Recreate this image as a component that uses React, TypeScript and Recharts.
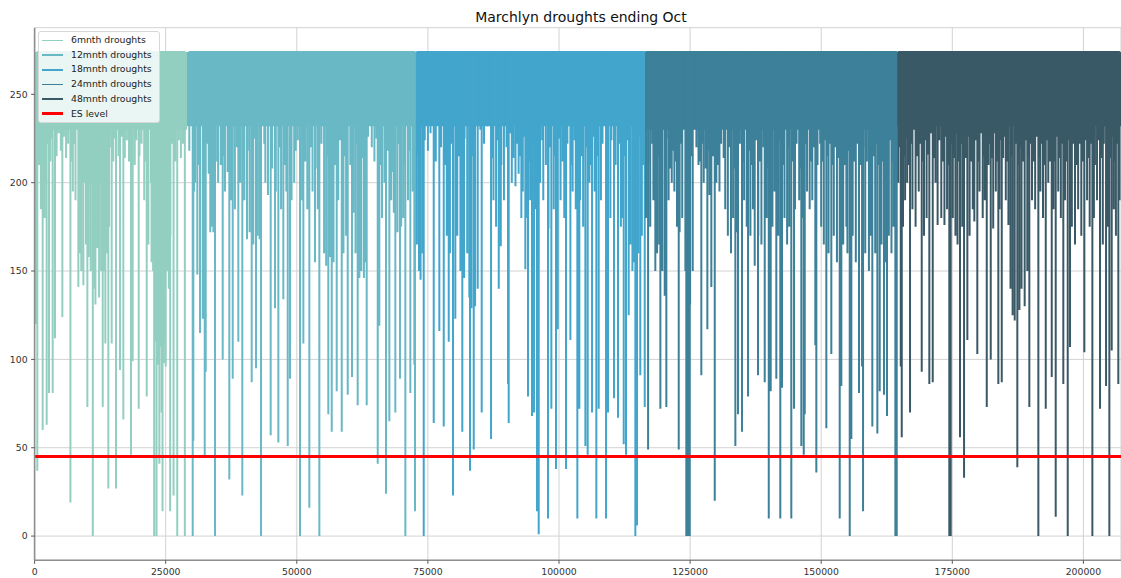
import { ComposedChart, Line, Area, XAxis, YAxis, CartesianGrid, ReferenceLine, Legend } from "recharts"

// drought series sit at the capped level and drop to their minimum storage
const capLevel = 274
const esLevel = 45
const xMax = 207170
const xTicks = [0, 25000, 50000, 75000, 100000, 125000, 150000, 175000, 200000]
const yTicks = [0, 50, 100, 150, 200, 250]

// [start x, lower edge of the dense band] (step shaped)
const sixBand = [
  [0, 120], [460, 230], [8280, 200], [14380, 230], [22000, 200], [26010, 230], [29060, 230],
]
const twelveBand = [[29060, 232], [72730, 232]]
const eighteenBand = [[72730, 232], [116410, 232]]
const twentyFourBand = [[116410, 230], [164470, 230]]
const fortyEightBand = [[164470, 232], [208300, 232]]

// [x, minimum] of the deeper droughts
const sixDips = [
  [515, 37], [1540, 60], [2300, 63], [2750, 81], [3450, 81], [3890, 112], [5290, 124],
  [6830, 19], [8340, 141], [10060, 73], [11100, 0], [11960, 163], [12990, 73], [13490, 109],
  [14060, 27], [14700, 109], [15520, 27], [16290, 94], [16920, 66], [18380, 46], [18700, 99],
  [19850, 72], [21380, 79], [22800, 0], [23250, 0], [23790, 41], [24230, 70], [24400, 14],
  [25000, 96], [25850, 14], [26500, 23], [27200, 0], [28650, 0],
]
const twelveDips = [
  [30150, 0], [30270, 54], [31030, 148], [31540, 115], [32060, 123], [32440, 45], [32630, 93],
  [34400, 0], [35870, 100], [37130, 32], [37780, 89], [38850, 110], [39610, 23], [41400, 87],
  [42220, 95], [43180, 0], [45020, 57], [45840, 129], [46480, 53], [47430, 134], [48270, 51],
  [48710, 89], [50610, 0], [51250, 109], [52390, 16], [53470, 155], [54300, 0], [56010, 69],
  [56660, 59], [57610, 82], [58570, 59], [59710, 80], [60530, 90], [61610, 74], [61930, 146],
  [63330, 74], [65430, 41], [65740, 119], [66250, 180], [67010, 24], [67650, 65], [68790, 70],
  [69680, 89], [70700, 0], [71650, 81], [72410, 97], [72540, 14],
]
const eighteenDips = [
  [74200, 0], [76110, 64], [77180, 116], [78020, 62], [78970, 110], [79790, 23], [80230, 123],
  [81560, 59], [83030, 37], [83740, 49], [85260, 70], [87040, 55], [88510, 140], [90280, 86],
  [90410, 64], [92820, 180], [93580, 151], [94090, 79], [94850, 68], [95240, 70], [95810, 14],
  [96130, 1], [97900, 10], [98540, 72], [99430, 38], [99760, 117], [101340, 38], [102170, 111],
  [103500, 10], [103880, 72], [105030, 51], [105470, 46], [106300, 70], [107120, 10],
  [107570, 72], [108970, 10], [109350, 70], [110490, 78], [111250, 67], [112340, 52],
  [112780, 46], [113290, 125], [114560, 0], [114880, 6], [115500, 91], [116350, 73],
]
const twentyFourDips = [
  [116990, 49], [118370, 150], [119330, 72], [120160, 136], [120470, 73], [122830, 49],
  [124280, 0], [124600, 0], [124930, 0], [127140, 91], [128290, 117], [129050, 141],
  [129700, 20], [133630, 51], [134140, 69], [134900, 59], [136050, 79], [137320, 153],
  [137950, 91], [139230, 87], [140000, 10], [140370, 82], [141440, 89], [142200, 10],
  [142530, 84], [144300, 10], [144820, 72], [146210, 51], [146670, 46], [146860, 69],
  [148880, 108], [149070, 36], [150980, 61], [151930, 103], [153530, 10], [153840, 85],
  [155440, 0], [155750, 55], [157210, 81], [157790, 96], [157980, 14], [159750, 62],
  [160710, 58], [161160, 82], [161980, 80], [162550, 68], [164140, 0], [164400, 0],
]
const fortyEightDips = [
  [165170, 96], [165360, 56], [166940, 70], [169170, 93], [170620, 86], [171270, 87],
  [174430, 0], [174700, 0], [176470, 56], [177240, 33], [177870, 111], [179770, 103],
  [181570, 73], [182330, 100], [183780, 86], [184430, 87], [187400, 39], [189690, 73],
  [191410, 0], [192820, 72], [193960, 90], [194720, 11], [196170, 86], [197010, 0],
  [197450, 107], [200180, 104], [201710, 0], [203170, 72], [204320, 85], [204950, 0],
  [205400, 105], [206660, 86],
]

// [x, minimum] of the mid-depth droughts that fray the band
const sixFingers = [
  [1200, 185], [1900, 180], [2100, 200], [7300, 195], [7800, 190], [8600, 160], [8900, 150],
  [9300, 142], [9800, 165], [10300, 158], [10700, 150], [11300, 140], [11600, 131],
  [12300, 135], [12700, 150], [13200, 150], [13800, 160], [14200, 175], [20900, 190],
  [21700, 165], [22300, 155], [22600, 150], [23100, 110], [23500, 100], [23600, 97],
  [24000, 107], [24600, 98], [24800, 110], [25300, 150], [25600, 140], [25900, 170],
  [600, 222], [900, 210], [1400, 225], [1700, 212], [2500, 222], [3000, 212], [3300, 225],
  [4200, 215], [4600, 228], [5000, 218], [5600, 226], [6000, 214], [6400, 222], [7000, 212],
  [7600, 222], [14600, 220], [15000, 212], [15300, 225], [16000, 215], [16600, 226],
  [17200, 214], [17600, 224], [18000, 212], [18500, 222], [19100, 210], [19400, 224],
  [20000, 215], [20400, 222], [21000, 212], [21200, 224], [26200, 222], [26800, 212],
  [27500, 224], [27900, 214], [28300, 222],
]
const twelveFingers = [
  [30400, 195], [30600, 200], [33500, 172], [33800, 175], [34100, 172], [35000, 200],
  [35500, 210], [36300, 195], [37400, 190], [38200, 185], [39200, 200], [40000, 190],
  [40500, 168], [41000, 172], [41700, 165], [42500, 170], [42900, 168], [44000, 200],
  [44500, 193], [46000, 195], [47000, 185], [48000, 195], [49000, 190], [49500, 200],
  [51000, 190], [52000, 185], [53000, 195], [54000, 185], [55200, 160], [55600, 153],
  [56300, 158], [57000, 155], [57900, 190], [58900, 160], [59400, 170], [60800, 183],
  [61200, 160], [62300, 150], [62800, 146], [63100, 155], [66700, 200], [68000, 190],
  [68500, 183], [69200, 172], [69900, 175], [70300, 180], [71200, 190], [72100, 195],
  [29500, 218], [31300, 210], [32900, 222], [33200, 205], [34800, 212], [36000, 215],
  [36800, 206], [38600, 220], [39900, 212], [40900, 218], [41900, 225], [43000, 215],
  [43800, 222], [45300, 208], [46800, 220], [47700, 210], [49800, 218], [50200, 224],
  [51600, 212], [52700, 220], [53900, 208], [54700, 222], [55900, 215], [57300, 210],
  [58200, 224], [59100, 215], [60200, 210], [61500, 222], [62500, 214], [63600, 226],
  [64300, 220], [64800, 212], [65200, 225], [66000, 210], [67300, 218], [68200, 206],
  [69500, 222], [70500, 210], [71500, 218], [72300, 212],
]
const eighteenFingers = [
  [72900, 165], [73300, 150], [73600, 145], [74000, 160], [78600, 170], [79200, 160],
  [80600, 170], [81200, 150], [81900, 146], [82500, 160], [82900, 135], [83300, 129],
  [84000, 130], [84500, 140], [87500, 190], [88000, 175], [88900, 164], [89500, 190],
  [91000, 200], [91700, 198], [92300, 205], [93100, 195], [93900, 180], [94500, 190],
  [95500, 185], [96400, 200], [97000, 190], [98000, 174], [99000, 185], [100300, 190],
  [101000, 180], [102600, 195], [103200, 185], [104000, 190], [104600, 175], [105800, 200],
  [106800, 195], [108000, 190], [109800, 180], [110500, 190], [111800, 175], [112000, 180],
  [113600, 165], [114000, 150], [114300, 155], [115100, 160], [115800, 170],
  [73000, 215], [74400, 224], [75000, 218], [75500, 228], [76500, 212], [77500, 220],
  [78300, 210], [79500, 222], [80900, 215], [82000, 225], [83500, 215], [85000, 230],
  [85700, 222], [86300, 232], [87200, 214], [88200, 224], [89000, 210], [90000, 220],
  [90700, 228], [91300, 214], [92000, 222], [92600, 215], [93300, 226], [94200, 212],
  [95000, 222], [96000, 218], [96800, 224], [97500, 210], [98300, 220], [99200, 215],
  [100000, 225], [100700, 212], [101600, 222], [102400, 210], [103000, 224], [104300, 215],
  [105200, 220], [106000, 210], [106500, 226], [107300, 215], [108300, 222], [109000, 212],
  [110000, 224], [110800, 210], [111500, 222], [112500, 215], [113000, 224], [114700, 218],
  [115300, 226], [116000, 210],
]
const twentyFourFingers = [
  [116600, 180], [117400, 175], [118000, 190], [118700, 160], [119100, 165], [119700, 150],
  [120200, 165], [120900, 190], [121500, 200], [122000, 195], [122500, 175], [123000, 172],
  [123500, 180], [124100, 150], [124400, 140], [125000, 131], [125500, 150], [126600, 210],
  [127600, 200], [128700, 193], [130000, 200], [130600, 195], [131700, 185], [132200, 170],
  [132800, 160], [133200, 180], [133900, 172], [135300, 190], [135800, 175], [136500, 170],
  [137000, 185], [138000, 170], [138600, 165], [139600, 180], [140700, 175], [141100, 195],
  [141800, 170], [143000, 180], [143500, 165], [143900, 175], [145000, 185], [145800, 190],
  [146400, 180], [147300, 195], [147800, 185], [148300, 190], [150000, 175], [150500, 165],
  [151400, 160], [152400, 170], [153000, 155], [154200, 165], [154800, 175], [155000, 160],
  [156000, 170], [156600, 155], [158400, 160], [159100, 150], [159400, 170], [160300, 160],
  [161500, 165], [162200, 155], [162900, 170], [163400, 160], [163800, 175],
  [117000, 210], [117800, 222], [119000, 215], [120500, 225], [121200, 208], [121800, 218],
  [122300, 212], [123200, 222], [125300, 215], [126200, 220], [126900, 212], [127300, 222],
  [128000, 208], [128500, 218], [129400, 215], [130300, 210], [130900, 222], [131400, 214],
  [132500, 220], [133500, 208], [134500, 222], [135000, 212], [136200, 218], [136800, 210],
  [137600, 224], [138300, 212], [139000, 220], [139900, 208], [140500, 222], [141300, 212],
  [142000, 224], [142800, 210], [143700, 220], [144500, 212], [145300, 222], [146000, 208],
  [147000, 222], [148000, 212], [148600, 220], [149300, 210], [149800, 222], [150300, 212],
  [150800, 224], [151200, 215], [151700, 222], [152100, 210], [152700, 220], [153300, 214],
  [154000, 222], [154500, 210], [155200, 218], [155600, 225], [156300, 212], [156900, 222],
  [157500, 210], [158000, 220], [158700, 212], [159600, 224], [160000, 215], [160500, 222],
  [160900, 210], [161300, 220], [161800, 212], [162400, 222], [162700, 214], [163100, 224],
  [163600, 212], [164000, 220],
]
const fortyEightFingers = [
  [164700, 200], [165600, 175], [166000, 190], [166400, 200], [167400, 185], [168000, 175],
  [168600, 195], [169600, 170], [170100, 180], [171800, 200], [172200, 176], [172900, 180],
  [173500, 176], [174000, 185], [175100, 180], [175600, 170], [176000, 165], [176900, 175],
  [178300, 170], [178900, 185], [179200, 178], [180200, 195], [180800, 180], [181200, 190],
  [182800, 174], [183300, 195], [184000, 185], [185200, 190], [185700, 176], [186100, 140],
  [186500, 125], [186900, 122], [187800, 128], [188200, 140], [188800, 130], [189300, 150],
  [190200, 190], [190800, 185], [191800, 195], [192300, 180], [193300, 200], [194300, 185],
  [195200, 195], [195700, 180], [196500, 190], [197800, 175], [198400, 165], [199000, 185],
  [199600, 170], [200700, 190], [201200, 175], [202000, 180], [202600, 190], [203700, 165],
  [204600, 175], [205800, 185], [206200, 170], [206900, 190],
  [164900, 220], [165400, 228], [165800, 215], [166200, 225], [166700, 210], [167100, 222],
  [167700, 230], [168300, 215], [168900, 222], [169300, 212], [169900, 224], [170400, 216],
  [170900, 228], [171500, 214], [172500, 224], [173200, 212], [173800, 226], [174200, 210],
  [174900, 222], [175400, 214], [175800, 228], [176200, 212], [176700, 222], [177500, 214],
  [178100, 226], [178600, 212], [179500, 224], [180000, 212], [180500, 228], [181000, 215],
  [181400, 224], [181900, 210], [182100, 222], [182600, 214], [183000, 228], [183500, 212],
  [184200, 224], [184700, 214], [185000, 226], [185500, 212], [186300, 215], [187100, 222],
  [187600, 210], [188000, 220], [188500, 212], [189000, 224], [189500, 214], [190000, 222],
  [190500, 212], [191100, 226], [191600, 214], [192100, 222], [192600, 210], [193100, 224],
  [193600, 212], [194000, 222], [194500, 212], [195000, 226], [195500, 214], [196000, 222],
  [196800, 212], [197200, 224], [197600, 214], [198100, 222], [198700, 210], [199300, 222],
  [199800, 212], [200400, 224], [200900, 214], [201500, 222], [202200, 210], [202800, 224],
  [203400, 214], [203900, 222], [204400, 212], [204800, 224], [205200, 214], [205600, 226],
  [206000, 212], [206400, 222], [206700, 214],
]

const series = [
  { name: "6mnth droughts", color: "#92cfc0", band: sixBand, dips: [...sixDips, ...sixFingers] },
  { name: "12mnth droughts", color: "#69b8c6", band: twelveBand, dips: [...twelveDips, ...twelveFingers] },
  { name: "18mnth droughts", color: "#42a5cc", band: eighteenBand, dips: [...eighteenDips, ...eighteenFingers] },
  { name: "24mnth droughts", color: "#3c8099", band: twentyFourBand, dips: [...twentyFourDips, ...twentyFourFingers] },
  { name: "48mnth droughts", color: "#3a5967", band: fortyEightBand, dips: [...fortyEightDips, ...fortyEightFingers] },
]

const bandRows = (band: number[][]) => band.map(([x, floor]) => ({ x, range: [floor, capLevel] }))

const dipRows = (dips: number[][]) => {
  const rows: { x: number; y: number }[] = []
  ;[...dips]
    .sort((a, b) => a[0] - b[0])
    .forEach(([x, low]) => {
      rows.push({ x, y: capLevel }, { x, y: low }, { x, y: capLevel })
    })
  return rows
}

const tickStyle = { fontSize: 9.3, fill: "#333", fontFamily: "DejaVu Sans" }

const renderLegend = () => (
  <div
    style={{
      background: "rgba(255,255,255,0.8)",
      border: "1px solid #d8d8d8",
      borderRadius: 3,
      padding: "1px 3px",
      width: 114,
      fontSize: 9.3,
      lineHeight: "14.7px",
      color: "#222",
      fontFamily: "DejaVu Sans",
    }}
  >
    {series.map((s) => (
      <div key={s.name} style={{ display: "flex", alignItems: "center" }}>
        <span style={{ width: 21, height: 1.5, background: s.color, marginRight: 8 }} />
        {s.name}
      </div>
    ))}
    <div style={{ display: "flex", alignItems: "center" }}>
      <span style={{ width: 21, height: 3, background: "#ff0000", marginRight: 8 }} />
      ES level
    </div>
  </div>
)

export default function App() {
  return (
    <div style={{ position: "fixed", left: 0, top: 0, width: 1121, height: 578, overflow: "hidden", background: "#fff", fontFamily: "DejaVu Sans" }}>
      <style>{"html, body { margin: 0; overflow: hidden; }"}</style>
      <div style={{ position: "absolute", left: 0, top: 9, width: 1162, textAlign: "center", fontSize: 14, lineHeight: "16px", color: "#111" }}>
        Marchlyn droughts ending Oct
      </div>
      <ComposedChart width={1121} height={578} margin={{ top: 27.7, right: 0, bottom: 0, left: 0 }}>
        <CartesianGrid stroke="#d2d2d2" strokeWidth={1} />
        <XAxis
          dataKey="x"
          type="number"
          domain={[0, xMax]}
          ticks={xTicks}
          allowDataOverflow
          height={17.7}
          tick={tickStyle}
          tickSize={3.5}
          tickMargin={5}
          tickLine={{ stroke: "#555" }}
          axisLine={{ stroke: "#8e8e8e", strokeWidth: 1.6 }}
          tickFormatter={(v) => String(v)}
        />
        <XAxis xAxisId="top" orientation="top" type="number" domain={[0, xMax]} height={0} tick={false} tickLine={false} axisLine={{ stroke: "#8e8e8e", strokeWidth: 1.6 }} />
        <YAxis
          type="number"
          domain={[-13.7, 287.7]}
          ticks={yTicks}
          allowDataOverflow
          width={34.6}
          tick={tickStyle}
          tickSize={3.5}
          tickMargin={3.5}
          tickLine={{ stroke: "#555" }}
          axisLine={{ stroke: "#8e8e8e", strokeWidth: 1.6 }}
        />
        {series.map((s) => [
          <Area
            key={s.name + "-band"}
            data={bandRows(s.band)}
            dataKey="range"
            type="stepAfter"
            fill={s.color}
            fillOpacity={1}
            stroke="none"
            legendType="none"
            isAnimationActive={false}
          />,
          <Line
            key={s.name}
            data={dipRows(s.dips)}
            dataKey="y"
            type="linear"
            stroke={s.color}
            strokeWidth={2}
            strokeLinejoin="bevel"
            dot={false}
            activeDot={false}
            isAnimationActive={false}
          />,
        ])}
        <ReferenceLine y={esLevel} stroke="#ff0000" strokeWidth={3} />
        <Legend
          layout="vertical"
          align="center"
          verticalAlign="middle"
          content={renderLegend}
          wrapperStyle={{ left: 38, top: 31, width: 122, height: 92 }}
        />
      </ComposedChart>
    </div>
  )
}
